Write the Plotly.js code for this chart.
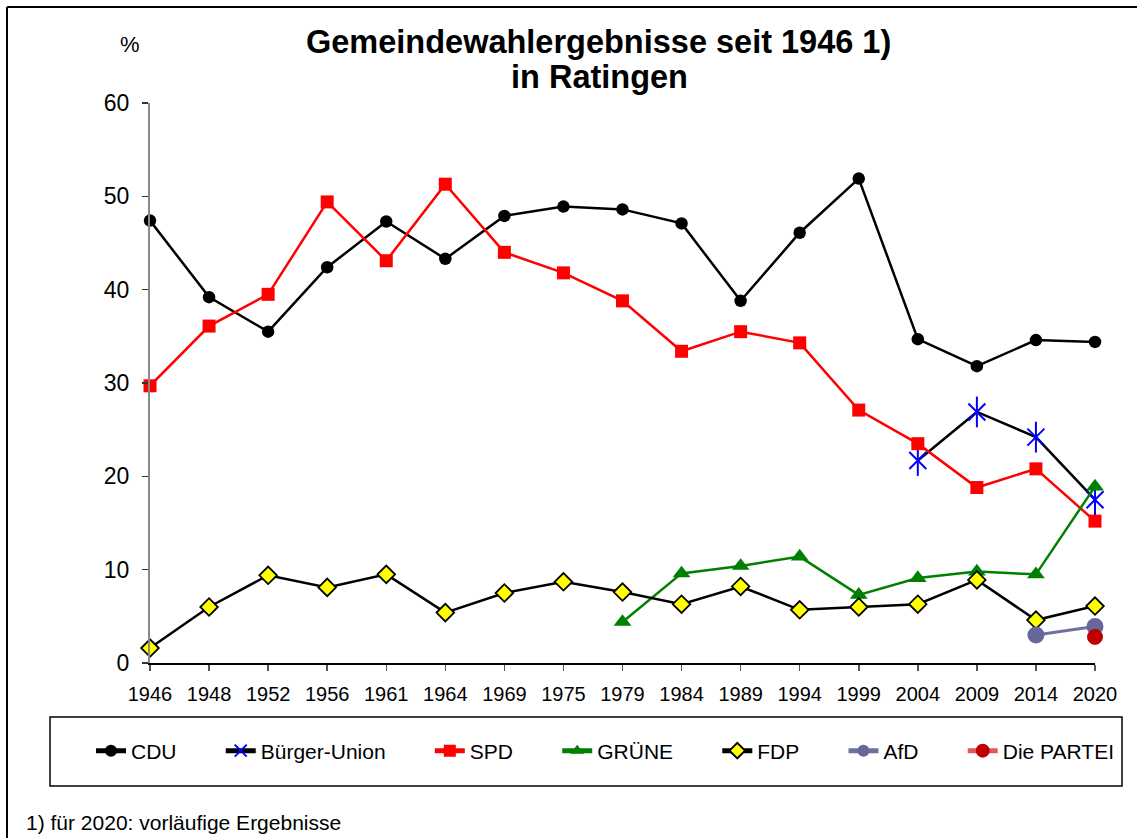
<!DOCTYPE html>
<html>
<head>
<meta charset="utf-8">
<script src="https://cdn.plot.ly/plotly-3.0.1.min.js"></script>
<style>
  html, body { margin: 0; padding: 0; background: #fff; }
  #chart { width: 1137px; height: 838px; }
</style>
</head>
<body>
<div id="chart"></div>
<script>
// ---- data ----
const years = ['1946','1948','1952','1956','1961','1964','1969','1975','1979','1984','1989','1994','1999','2004','2009','2014','2020'];
const cdu = [47.4, 39.2, 35.5, 42.4, 47.3, 43.3, 47.9, 48.9, 48.6, 47.1, 38.8, 46.1, 51.9, 34.7, 31.8, 34.6, 34.4];
const buergerUnion = [null, null, null, null, null, null, null, null, null, null, null, null, null, 21.7, 26.9, 24.2, 17.5];
const spd = [29.7, 36.1, 39.5, 49.4, 43.1, 51.3, 44.0, 41.8, 38.8, 33.4, 35.5, 34.3, 27.1, 23.5, 18.8, 20.8, 15.2];
const gruene = [null, null, null, null, null, null, null, null, 4.4, 9.6, 10.4, 11.4, 7.3, 9.1, 9.8, 9.5, 18.9];
const fdp = [1.6, 6.0, 9.4, 8.1, 9.5, 5.4, 7.5, 8.7, 7.6, 6.3, 8.2, 5.7, 6.0, 6.3, 8.9, 4.6, 6.1];
const afd = [null, null, null, null, null, null, null, null, null, null, null, null, null, null, null, 3.0, 3.9];
const partei = [null, null, null, null, null, null, null, null, null, null, null, null, null, null, null, null, 2.8];
const seriesNames = ['CDU', 'Bürger-Union', 'SPD', 'GRÜNE', 'FDP', 'AfD', 'Die PARTEI'];
const yTicks = [0, 10, 20, 30, 40, 50, 60];

// ---- layout geometry helpers ----
const W = 1137, H = 838;
const M = {l: 150, r: 42, t: 103, b: 175};
const PW = W - M.l - M.r, PH = H - M.t - M.b;
const px2x = p => (p - M.l) / PW;
const px2y = p => (H - M.b - p) / PH;

const FONT = 'Liberation Sans, Arial, sans-serif';
const pad = '\u00a0'.repeat(6) + '\u2009';

const traces = [
  {x: years, y: cdu, name: seriesNames[0] + pad, mode: 'lines+markers', cliponaxis: false,
   line: {color: '#000000', width: 2.5},
   marker: {symbol: 'circle', size: 12.5, color: '#000000'}},
  {x: years, y: buergerUnion, name: seriesNames[1] + pad, mode: 'lines+markers', cliponaxis: false,
   line: {color: '#000000', width: 2.5},
   marker: {symbol: 'x-thin-open', size: 17, color: '#0000ff', line: {color: '#0000ff', width: 2}}},
  {x: years, y: buergerUnion, name: seriesNames[1], mode: 'markers', showlegend: false, cliponaxis: false,
   marker: {symbol: 'line-ns-open', size: 22, color: '#0000ff', line: {color: '#0000ff', width: 2}}},
  {x: years, y: spd, name: seriesNames[2] + pad, mode: 'lines+markers', cliponaxis: false,
   line: {color: '#ff0000', width: 2.5},
   marker: {symbol: 'square', size: 13, color: '#ff0000'}},
  {x: years, y: gruene, name: seriesNames[3] + pad, mode: 'lines+markers', cliponaxis: false,
   line: {color: '#008000', width: 2.5},
   marker: {symbol: 'triangle-up', size: 15.5, color: '#008000'}},
  {x: years, y: fdp, name: seriesNames[4] + pad, mode: 'lines+markers', cliponaxis: false,
   line: {color: '#000000', width: 2.5},
   marker: {symbol: 'diamond', size: 13.5, color: '#ffff00', line: {color: '#000000', width: 1.8}}},
  {x: years, y: afd, name: seriesNames[5] + pad, mode: 'lines+markers', cliponaxis: false,
   line: {color: '#7070a0', width: 3},
   marker: {symbol: 'circle', size: 17, color: '#67679b'}},
  {x: years, y: partei, name: seriesNames[6], mode: 'lines+markers', cliponaxis: false,
   line: {color: '#e05a5a', width: 2.5},
   marker: {symbol: 'circle', size: 15, color: '#c00000', line: {color: '#c00000', width: 1}}}
];

const layout = {
  width: W, height: H,
  margin: M,
  paper_bgcolor: '#ffffff', plot_bgcolor: '#ffffff',
  font: {family: FONT, color: '#000000', size: 20},
  showlegend: true,
  legend: {
    orientation: 'h', x: px2x(91), xanchor: 'left', y: px2y(751), yanchor: 'middle',
    font: {family: FONT, size: 21, color: '#000000'},
    bgcolor: 'rgba(0,0,0,0)', borderwidth: 0, itemsizing: 'constant', traceorder: 'normal'
  },
  xaxis: {
    type: 'category', categoryorder: 'array', categoryarray: years,
    range: [0, years.length - 1], fixedrange: true,
    showgrid: false, zeroline: false,
    showline: true, linecolor: '#000000', linewidth: 1.5,
    ticks: 'outside', ticklen: 6, tickcolor: '#555555', tickwidth: 1.5,
    tickfont: {family: FONT, size: 20, color: '#000000'},
    ticklabelstandoff: 6
  },
  yaxis: {
    range: [0, 60], tickvals: yTicks, ticktext: yTicks.map(String),
    showgrid: false, zeroline: false,
    showline: true, linecolor: '#888888', linewidth: 2,
    ticks: 'outside', ticklen: 6, tickcolor: '#333333', tickwidth: 1.5,
    tickfont: {family: FONT, size: 23, color: '#000000'},
    ticklabelstandoff: 8
  },
  annotations: [
    {text: '<b>Gemeindewahlergebnisse seit 1946 1)</b>', xref: 'paper', yref: 'paper',
     x: px2x(598), y: px2y(42), xanchor: 'center', yanchor: 'middle', showarrow: false,
     font: {family: FONT, size: 32.5, color: '#000000'}},
    {text: '<b>in Ratingen</b>', xref: 'paper', yref: 'paper',
     x: px2x(599), y: px2y(77), xanchor: 'center', yanchor: 'middle', showarrow: false,
     font: {family: FONT, size: 32.5, color: '#000000'}},
    {text: '%', xref: 'paper', yref: 'paper',
     x: px2x(130), y: px2y(45), xanchor: 'center', yanchor: 'middle', showarrow: false,
     font: {family: FONT, size: 22, color: '#000000'}},
    {text: '1) für 2020: vorläufige Ergebnisse', xref: 'paper', yref: 'paper',
     x: px2x(24), y: px2y(822), xanchor: 'left', yanchor: 'middle', showarrow: false,
     font: {family: FONT, size: 21, color: '#000000'}}
  ],
  shapes: [
    {type: 'line', xref: 'paper', yref: 'paper', x0: px2x(7), x1: px2x(1150), y0: px2y(7), y1: px2y(7),
     line: {color: '#000000', width: 2}},
    {type: 'line', xref: 'paper', yref: 'paper', x0: px2x(7), x1: px2x(7), y0: px2y(7), y1: px2y(850),
     line: {color: '#000000', width: 2}},
    {type: 'rect', xref: 'paper', yref: 'paper', x0: px2x(50), x1: px2x(1122), y0: px2y(786), y1: px2y(717),
     line: {color: '#000000', width: 1.5}, fillcolor: 'rgba(0,0,0,0)'}
  ]
};

Plotly.newPlot('chart', traces, layout, {displayModeBar: false, staticPlot: true});
</script>
</body>
</html>
